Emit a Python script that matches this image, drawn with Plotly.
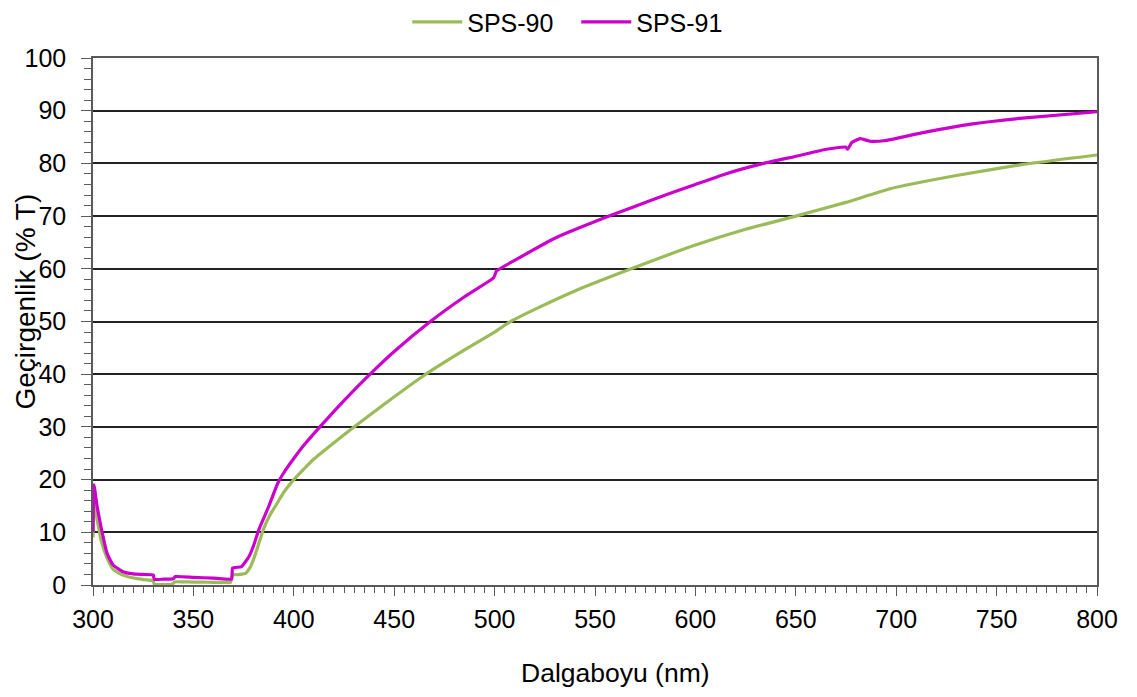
import plotly.graph_objects as go

# SPS-90 (green) transmittance readings
wl_90 = [300, 300.5, 302, 304, 307, 310, 313, 317, 322, 326, 330, 330.5, 335, 339, 341, 345,
         350, 355, 360, 365, 368.5, 369.5, 373, 376, 378.5, 381, 384.8, 388, 392, 395, 400,
         405, 410, 420, 430, 445, 465, 485, 500, 508, 520, 540, 568, 600, 625, 650, 675,
         697, 730, 763, 800]
t_90 = [9, 15.5, 12.5, 8.5, 5.1, 3.0, 2.2, 1.6, 1.2, 1.0, 0.8, 0.15, 0.1, 0.1, 0.6, 0.6,
        0.55, 0.55, 0.5, 0.5, 0.5, 1.9, 2.0, 2.2, 3.5, 6.0, 10.5, 13.2, 15.7, 17.6, 20.0,
        22.0, 23.9, 27.0, 30.0, 34.3, 39.8, 44.6, 48.0, 50.0, 52.3, 55.8, 60.0, 64.5, 67.5, 70.0, 72.6,
        75.2, 77.7, 79.8, 81.6]

# SPS-91 (magenta) transmittance readings
wl_91 = [300, 300.5, 302, 304, 307, 310, 315, 320, 325, 330, 330.5, 335, 340, 341, 350, 360,
         369, 369.5, 374, 377.7, 380, 382.6, 387.5, 392, 395, 400, 405, 413, 425, 438, 450,
         468, 485, 499.5, 501, 510, 530, 557, 580, 600, 615, 634, 652, 664, 674.7, 675.8,
         678, 682, 687, 694, 714, 738, 763, 800]
t_91 = [10, 19, 15, 11, 6.0, 3.8, 2.5, 2.1, 2.0, 1.9, 1.1, 1.1, 1.2, 1.6, 1.45, 1.3,
        1.15, 3.2, 3.5, 5.4, 7.5, 10.5, 14.9, 19.3, 21.3, 24.0, 26.5, 30.0, 35.0, 40.0, 44.3,
        50.0, 54.7, 58.3, 59.6, 61.6, 65.8, 70.0, 73.3, 76.0, 78.0, 80.0, 81.5, 82.6, 83.1, 82.7,
        84.0, 84.7, 84.2, 84.3, 85.9, 87.5, 88.6, 89.8]

x_ticks = [300, 350, 400, 450, 500, 550, 600, 650, 700, 750, 800]
y_ticks = [0, 10, 20, 30, 40, 50, 60, 70, 80, 90, 100]

x_title = "Dalgaboyu (nm)"
y_title = "Geçirgenlik (% T)"

FONT = "Liberation Sans, Arial, sans-serif"

fig = go.Figure()
fig.add_trace(go.Scatter(x=wl_90, y=t_90, mode="lines", name="SPS-90",
                         line=dict(color="#9BBB59", width=3.2, shape="spline", smoothing=0.4)))
fig.add_trace(go.Scatter(x=wl_91, y=t_91, mode="lines", name="SPS-91",
                         line=dict(color="#CC00CC", width=3.2, shape="spline", smoothing=0.4)))

fig.update_layout(
    width=1137, height=697,
    margin=dict(l=85, r=48, t=50, b=120, autoexpand=False),
    paper_bgcolor="white", plot_bgcolor="white",
    font=dict(family=FONT, size=25, color="#000000"),
    showlegend=True,
    legend=dict(orientation="h", x=0.313, xanchor="left", y=1.068, yanchor="middle",
                font=dict(size=25), itemwidth=50, bgcolor="rgba(0,0,0,0)",
                entrywidth=104, entrywidthmode="pixels"),
    xaxis=dict(
        range=[300, 800], tickvals=x_ticks, ticktext=[str(v) for v in x_ticks],
        showgrid=False, zeroline=False,
        showline=True, linecolor="#5a5a5a", linewidth=1.5, mirror=True,
        ticks="outside", ticklen=9, tickwidth=1.3, tickcolor="#5a5a5a",
        minor=dict(dtick=5, ticks="outside", ticklen=6, tickwidth=1, tickcolor="#5a5a5a", showgrid=False),
        tickfont=dict(size=25), ticklabelstandoff=2,
    ),
    yaxis=dict(
        range=[0, 100], tickvals=y_ticks, ticktext=[str(v) for v in y_ticks],
        showgrid=True, gridcolor="#222222", gridwidth=1.5, zeroline=False,
        showline=True, linecolor="#5a5a5a", linewidth=1.5, mirror=True,
        ticks="outside", ticklen=10, tickwidth=1.3, tickcolor="#5a5a5a",
        minor=dict(dtick=2, ticks="outside", ticklen=7, tickwidth=1, tickcolor="#5a5a5a", showgrid=False),
        tickfont=dict(size=25), ticklabelstandoff=10,
    ),
    annotations=[
        dict(text=x_title, xref="paper", yref="paper", x=0.52, y=0, xanchor="center",
             yanchor="middle", yshift=-88, showarrow=False, font=dict(size=26.5)),
        dict(text=y_title, xref="paper", yref="paper", x=0, y=0.5, xanchor="center",
             yanchor="middle", xshift=-68, yshift=20, textangle=-90, showarrow=False,
             font=dict(size=28)),
    ],
)

fig.write_html("out.html")
